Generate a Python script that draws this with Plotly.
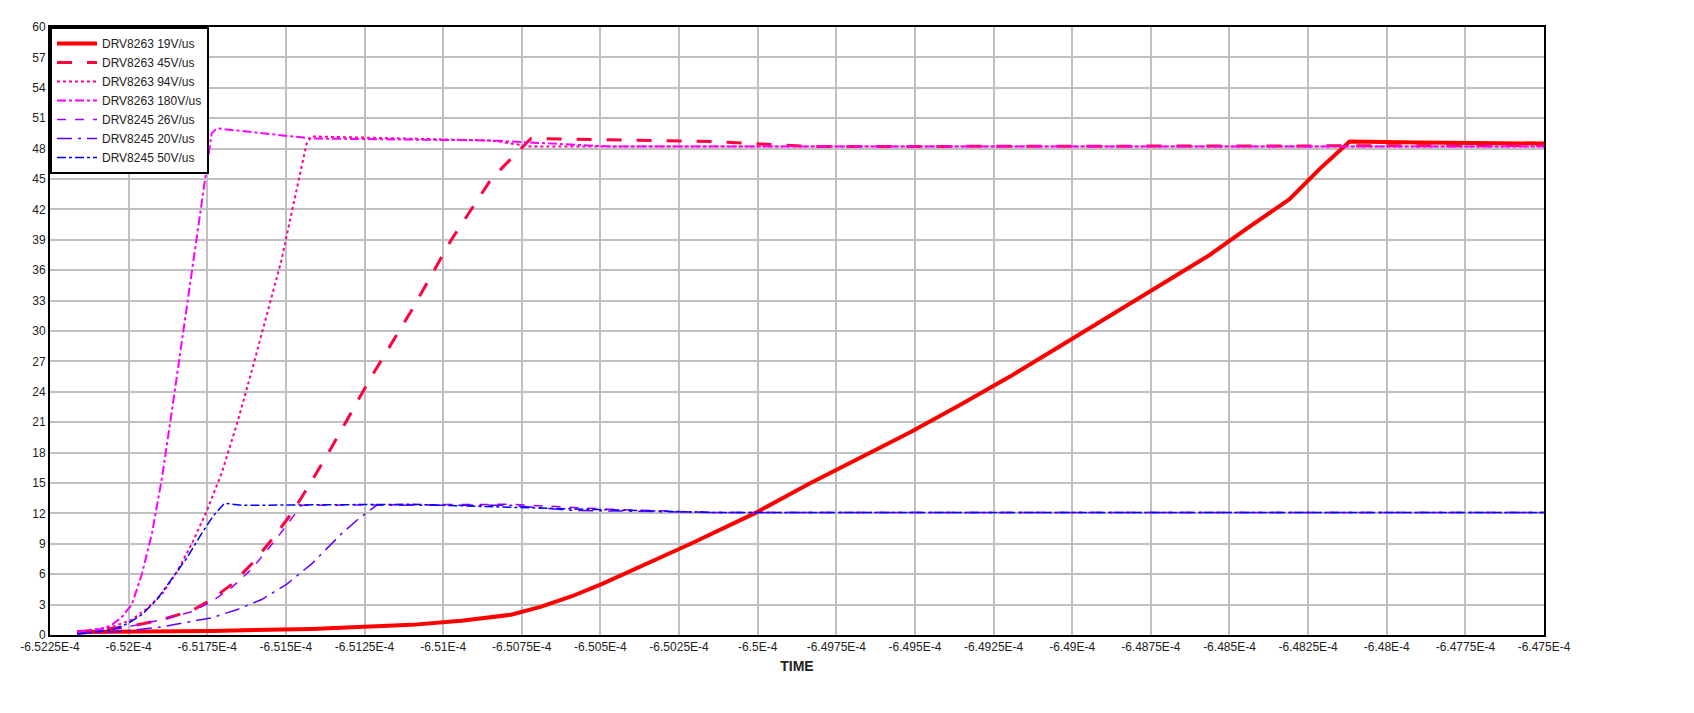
import plotly.graph_objects as go

# x values in microseconds, y in volts
x19 = [-652.164, -651.736, -651.419, -651.101, -650.942, -650.784, -650.688, -650.593, -650.498, -650.403, -650.308, -650.213, -650.010, -649.832, -649.674, -649.515, -649.357, -649.198, -649.039, -648.880, -648.722, -648.563, -648.436, -648.309, -648.213, -648.118, -647.900, -647.500]
y19 = [0.3, 0.4, 0.6, 1.0, 1.4, 2.0, 2.8, 3.8, 5.0, 6.3, 7.6, 9.0, 12.0, 15.0, 17.5, 20.0, 22.7, 25.5, 28.5, 31.5, 34.5, 37.5, 40.3, 43.0, 46.0, 48.7, 48.6, 48.5]

x45 = [-652.164, -652.005, -651.895, -651.799, -651.736, -651.672, -651.609, -651.545, -651.482, -651.418, -651.355, -651.228, -651.101, -650.974, -650.847, -650.736, -650.721, -650.149, -649.832, -647.500]
y45 = [0.3, 0.8, 1.5, 2.4, 3.5, 5.0, 7.0, 9.4, 12.0, 15.2, 18.5, 25.5, 32.0, 39.0, 45.0, 48.5, 49.0, 48.7, 48.2, 48.3]

x94 = [-652.164, -652.053, -651.990, -651.942, -651.895, -651.847, -651.799, -651.752, -651.704, -651.656, -651.609, -651.561, -651.514, -651.474, -651.434, -651.419, -650.847, -650.720, -647.500]
y94 = [0.3, 0.8, 1.5, 2.6, 4.0, 6.2, 9.0, 12.2, 16.0, 20.8, 26.0, 31.5, 37.0, 42.8, 48.5, 49.2, 48.8, 48.2, 48.2]

x180 = [-652.164, -652.085, -652.053, -652.021, -651.990, -651.958, -651.926, -651.894, -651.863, -651.831, -651.799, -651.767, -651.736, -651.720, -651.419, -650.847, -650.467, -647.500]
y180 = [0.3, 0.6, 1.0, 1.8, 3.0, 6.0, 10.0, 15.5, 22.0, 29.0, 36.0, 43.0, 49.5, 50.0, 49.0, 48.8, 48.2, 48.2]

x26 = [-652.164, -652.005, -651.895, -651.799, -651.736, -651.672, -651.609, -651.530, -651.450, -650.784, -650.467, -650.149, -647.500]
y26 = [0.1, 0.8, 1.5, 2.3, 3.3, 4.7, 6.5, 9.5, 12.8, 12.9, 12.4, 12.1, 12.1]

x20 = [-652.164, -652.005, -651.895, -651.736, -651.656, -651.577, -651.498, -651.419, -651.371, -651.323, -651.268, -651.212, -650.784, -650.593, -650.149, -647.500]
y20 = [0.1, 0.4, 0.8, 1.7, 2.5, 3.5, 5.0, 7.0, 8.5, 10.0, 11.5, 12.8, 12.8, 12.3, 12.1, 12.1]

x50 = [-652.164, -652.053, -652.005, -651.958, -651.910, -651.863, -651.815, -651.768, -651.730, -651.695, -651.641, -651.101, -650.784, -650.149, -647.500]
y50 = [0.1, 0.5, 1.1, 2.0, 3.5, 5.5, 7.6, 10.0, 11.8, 13.0, 12.8, 12.9, 12.6, 12.1, 12.1]

names = ["DRV8263 19V/us", "DRV8263 45V/us", "DRV8263 94V/us", "DRV8263 180V/us",
         "DRV8245 26V/us", "DRV8245 20V/us", "DRV8245 50V/us"]
colors = ["#FF0000", "#FF0040", "#FF00A0", "#FF00FF", "#A000FF", "#6000FF", "#0000FF"]
dashes = ["solid", "longdash", "dot", "dashdot", "dash", "longdashdot", "dashdot"]
widths = [4, 3, 2, 2, 1.5, 1.5, 1.5]
xs = [x19, x45, x94, x180, x26, x20, x50]
ys = [y19, y45, y94, y180, y26, y20, y50]

tickvals = [-652.25 + 0.25 * i for i in range(20)]
ticktext = ["-6.5225E-4", "-6.52E-4", "-6.5175E-4", "-6.515E-4", "-6.5125E-4", "-6.51E-4",
            "-6.5075E-4", "-6.505E-4", "-6.5025E-4", "-6.5E-4", "-6.4975E-4", "-6.495E-4",
            "-6.4925E-4", "-6.49E-4", "-6.4875E-4", "-6.485E-4", "-6.4825E-4", "-6.48E-4",
            "-6.4775E-4", "-6.475E-4"]
yticks = list(range(0, 61, 3))

fig = go.Figure()
for x, y, n, c, d, w in zip(xs, ys, names, colors, dashes, widths):
    fig.add_trace(go.Scatter(x=x, y=y, name=n, mode="lines",
                             line=dict(color=c, dash=d, width=w)))

fig.update_layout(
    width=1694, height=713,
    margin=dict(l=38, r=158, t=15, b=86),
    paper_bgcolor="white", plot_bgcolor="white",
    font=dict(family="Liberation Sans, Arial", size=12, color="#222"),
    showlegend=True,
    legend=dict(x=0, y=1, xanchor="left", yanchor="top", bgcolor="white",
                bordercolor="black", borderwidth=2, font=dict(size=12),
                tracegroupgap=0, itemwidth=40),
    xaxis=dict(range=[-652.25, -647.5], tickvals=tickvals, ticktext=ticktext,
               showgrid=True, gridcolor="#C0C0C0", gridwidth=2,
               showline=True, linecolor="black", linewidth=2, mirror=True,
               zeroline=False, ticks="",
               title=dict(text="<b>TIME</b>", standoff=8)),
    yaxis=dict(range=[0, 60], tickvals=yticks,
               showgrid=True, gridcolor="#C0C0C0", gridwidth=2,
               showline=True, linecolor="black", linewidth=2, mirror=True,
               zeroline=False, ticks=""),
)
fig.write_html("out.html")
